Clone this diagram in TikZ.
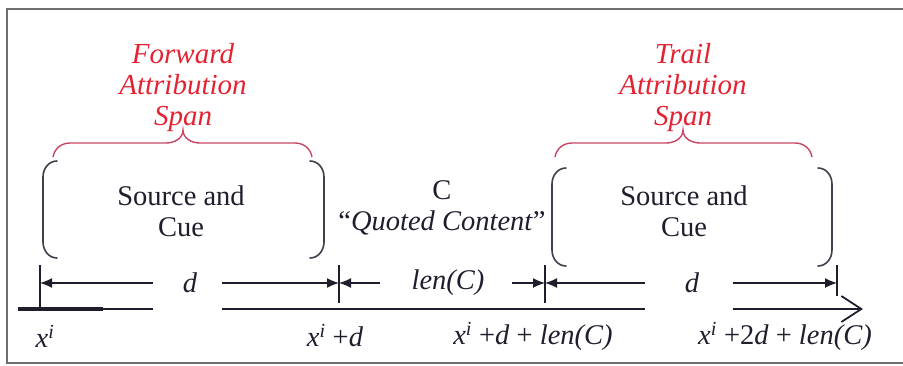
\documentclass[tikz,border=0pt]{standalone}
\usepackage{fontspec}
\setmainfont{Liberation Serif}
\usetikzlibrary{arrows.meta}
\definecolor{ink}{RGB}{30,30,45}
\definecolor{redtxt}{RGB}{228,35,50}
\definecolor{bracered}{RGB}{200,70,100}
\definecolor{framegray}{RGB}{110,110,110}
\newcommand{\xsup}{\textit{x}\textsuperscript{\textit{i}}}
\begin{document}
\begin{tikzpicture}[x=1pt,y=-1pt,
  every node/.style={font=\fontsize{28.5}{31}\selectfont, text=ink, inner sep=0pt},
  spantxt/.style={font=\fontsize{29}{31}\selectfont\itshape, text=redtxt, align=center},
  bracebox/.style={draw=ink!85, line width=1.6pt, line cap=round},
  spanbrace/.style={draw=bracered, line width=1.4pt},
  dimarrow/.style={draw=ink, line width=1.4pt, -{Latex[length=12pt,width=10pt]}},
  tick/.style={draw=ink, line width=1.6pt},
  axis/.style={draw=ink, line width=1.4pt},
  framel/.style={draw=framegray, line width=1.8pt}]
\useasboundingbox (0,0) rectangle (903,365);
% frame
\draw[framel] (903,9) -- (7,9) -- (7,363) -- (903,363);

% span labels
\node[spantxt] (fwd) at (183,88) {Forward\\Attribution\\Span};
\node[spantxt] (trail) at (683,88) {Trail\\Attribution\\Span};

% red braces
\draw[spanbrace] (53,157) to[out=80,in=180] (70,143) -- (166,143) to[out=0,in=-90] (183,130)
  to[out=-90,in=180] (200,143) -- (295,143) to[out=0,in=100] (312,157);
\draw[spanbrace] (555,157) to[out=80,in=180] (572,143) -- (666,143) to[out=0,in=-90] (683,130)
  to[out=-90,in=180] (700,143) -- (795,143) to[out=0,in=100] (812,157);

% left bracket box
\draw[bracebox] (57,161) to[out=180,in=90] (43,177) -- (43,242) to[out=-90,in=180] (57,258);
\draw[bracebox] (310,161) to[out=0,in=90] (324,177) -- (324,242) to[out=-90,in=0] (310,258);
\node[align=center] (src1) at (181,211) {Source and\\Cue};

% quoted content
\node[align=center] (quote) at (442,208) {C\\“\textit{Quoted Content}”};

% right bracket box
\draw[bracebox] (566,168) to[out=180,in=90] (552,184) -- (552,250) to[out=-90,in=180] (566,266);
\draw[bracebox] (818,168) to[out=0,in=90] (832,184) -- (832,250) to[out=-90,in=0] (818,266);
\node[align=center] (src2) at (684,211) {Source and\\Cue};

% tick coordinates
\coordinate (t0) at (40,283);
\coordinate (t1) at (339,283);
\coordinate (t2) at (545,283);
\coordinate (t3) at (837,283);

% ticks
\draw[tick, line width=2.6pt] (40,265) -- (40,309);
\draw[tick] (339,265) -- (339,303);
\draw[tick] (545,265) -- (545,303);
\draw[tick] (837,265) -- (837,296);

% dimension labels
\node (d1) at (190,283) {\textit{d}};
\node (lenc) at (448,283) {\textit{len(C)}};
\node (d2) at (692,283) {\textit{d}};

% dimension arrows
\coordinate (a1) at (153,283);
\coordinate (a2) at (222,283);
\coordinate (a3) at (380,283);
\coordinate (a4) at (512,283);
\coordinate (a5) at (645,283);
\coordinate (a6) at (733,283);
\draw[dimarrow] (a1) -- (t0);
\draw[dimarrow] (a2) -- (t1);
\draw[dimarrow] (a3) -- (t1);
\draw[dimarrow] (a4) -- (t2);
\draw[dimarrow] (a5) -- (t2);
\draw[dimarrow] (a6) -- (t3);

% axis
\coordinate (x0) at (18,309);
\coordinate (x1) at (103,309);
\coordinate (x2) at (153,309);
\coordinate (x3) at (222,309);
\coordinate (x4) at (645,309);
\coordinate (x5) at (733,309);
\coordinate (x6) at (863,309);
\draw[axis, line width=3.2pt] (x0) -- (x1);
\draw[axis] (x1) -- (x2);
\draw[axis] (x3) -- (x4);
\draw[axis, -{Straight Barb[length=20pt,width=26pt,line width=1.8pt]}] (x5) -- (x6);

% axis labels
\node (l0) at (45,336) {\xsup};
\node (l1) at (335,336) {\xsup{} +\textit{d}};
\node (l2) at (533,336) {\xsup{} +\textit{d} + \textit{len(C)}};
\node (l3) at (785,336) {\xsup{} +2\textit{d} + \textit{len(C)}};
\end{tikzpicture}
\end{document}
